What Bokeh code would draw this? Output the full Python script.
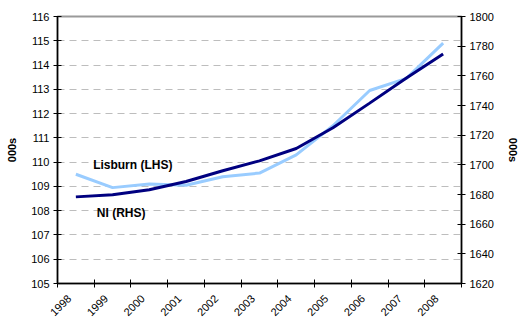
import math
from bokeh.plotting import figure
from bokeh.models import (Range1d, LinearAxis, FixedTicker, CustomJSTickFormatter)
from bokeh.core.properties import value
from bokeh.embed import file_html
from bokeh.resources import INLINE

# Population (thousands), mid-year estimates
years = ["1998", "1999", "2000", "2001", "2002", "2003",
         "2004", "2005", "2006", "2007", "2008"]
lisburn = [109.5, 108.95, 109.1, 109.05, 109.4, 109.55,
           110.3, 111.5, 112.95, 113.45, 114.9]
ni = [1678.4, 1679.8, 1683.2, 1688.8, 1696.0, 1702.7,
      1711.0, 1725.0, 1741.6, 1758.5, 1774.7]

left_ticks = list(range(105, 117))
right_ticks = list(range(1620, 1801, 20))

FONT = "Liberation Sans"

# one unit per year; points sit at the middle of each slot
xs = [i + 0.5 for i in range(len(years))]
# slanted year labels hang just left of each slot's middle
label_pos = [i + 0.32 for i in range(len(years))]

p = figure(width=521, height=322, output_backend="svg", toolbar_location=None,
           x_range=Range1d(0, len(years)), y_range=Range1d(105, 116),
           min_border_left=57, min_border_right=54,
           min_border_top=16, min_border_bottom=39)
p.background_fill_color = "white"
p.border_fill_color = "white"
p.outline_line_color = "#9a9a9a"
p.outline_line_width = 2

# bottom axis: tick marks between years, labels under each year
xax = p.xaxis[0]
xax.ticker = FixedTicker(ticks=label_pos, minor_ticks=list(range(len(years) + 1)))
xax.formatter = CustomJSTickFormatter(args=dict(labels=years),
                                      code="return labels[Math.floor(tick)]")
xax.major_tick_in = 0
xax.major_tick_out = 0
xax.minor_tick_in = 4
xax.minor_tick_out = 4
xax.minor_tick_line_color = "black"
xax.major_label_orientation = math.pi / 4
xax.major_label_standoff = 9

# left axis
yax = p.yaxis[0]
yax.ticker = FixedTicker(ticks=left_ticks)
yax.axis_label = "000s"

# right axis for NI
p.extra_y_ranges = {"ni": Range1d(1620, 1800)}
rax = LinearAxis(y_range_name="ni", ticker=FixedTicker(ticks=right_ticks),
                 axis_label="000s")
p.add_layout(rax, "right")

for ax in (xax, yax, rax):
    ax.axis_line_color = "black"
    ax.axis_line_width = 1.5
    ax.major_label_text_font = FONT
    ax.major_label_text_font_size = "11px"
    ax.major_label_text_color = "black"
    ax.axis_label_text_font = FONT
    ax.axis_label_text_font_size = "11px"
    ax.axis_label_text_font_style = "bold"
    ax.axis_label_text_color = "black"
for ax in (yax, rax):
    ax.major_tick_in = 4
    ax.major_tick_out = 4
    ax.major_tick_line_color = "black"
    ax.minor_tick_line_color = None
    ax.major_label_standoff = 4
    ax.axis_label_standoff = 10

p.xgrid.visible = False
p.ygrid.ticker = FixedTicker(ticks=left_ticks[1:-1])
p.ygrid.grid_line_color = "#bdbdbd"
p.ygrid.grid_line_dash = "7 5"
p.ygrid.grid_line_width = 1

p.line(xs, lisburn, line_color="#99ccff", line_width=3)
p.line(xs, ni, line_color="#000080", line_width=3, y_range_name="ni")

p.text(x=[0.97], y=[109.9], text=["Lisburn (LHS)"],
       text_font=value(FONT), text_font_size="12px", text_font_style="bold",
       text_baseline="middle", text_align="left", text_color="black")
p.text(x=[1.07], y=[107.92], text=["NI (RHS)"],
       text_font=value(FONT), text_font_size="12px", text_font_style="bold",
       text_baseline="middle", text_align="left", text_color="black")

open("out.html", "w").write(file_html(p, INLINE))
